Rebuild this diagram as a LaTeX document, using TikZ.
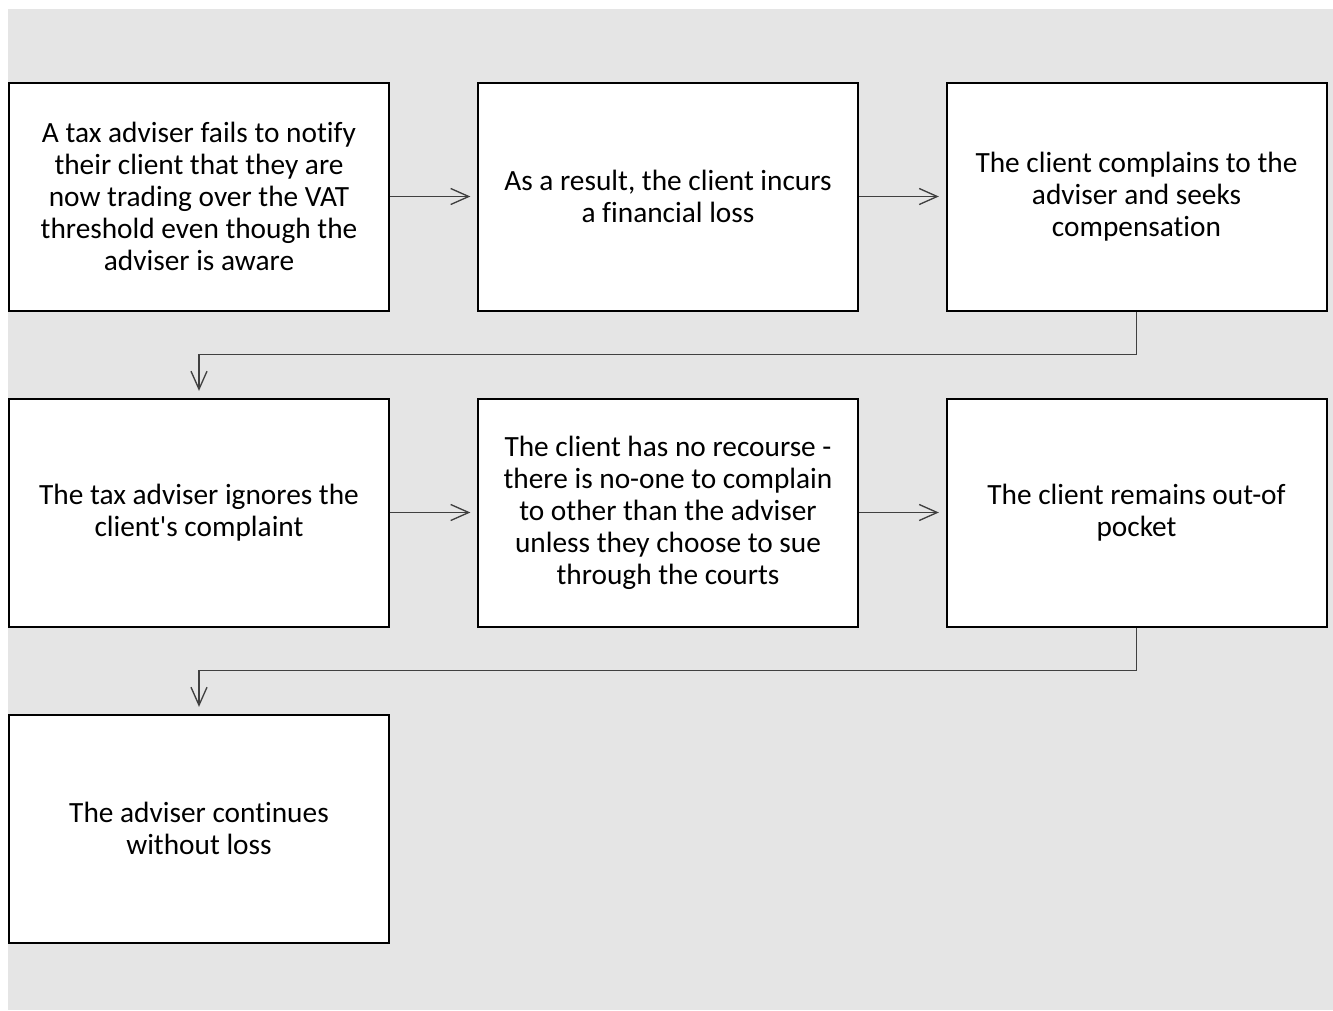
\documentclass[tikz,border=0pt]{standalone}
\usepackage{fontspec}
\setmainfont{Carlito}[Ligatures=NoCommon]
\usetikzlibrary{arrows.meta}

\definecolor{pagegray}{HTML}{E5E5E5}
\definecolor{linkgray}{HTML}{404040}

\tikzset{
  stepbox/.style={draw=black, line width=1.5pt, fill=white, minimum width=285pt,
    minimum height=171pt, align=center, inner sep=0pt,
    font=\fontsize{22}{24}\selectfont},
  link/.style={draw=linkgray, line width=1pt, shorten >=5pt,
    -{Straight Barb[length=13.5pt,width=12pt,line width=1pt]}}
}

\begin{document}
\begin{tikzpicture}[x=0.75pt,y=-0.75pt]

            \useasboundingbox (0,0) rectangle (1333,1010);
            \fill[pagegray] (8,9) rectangle (1333,1010);

            % first row
            \node[stepbox] (fail) at (199,196.5) {A tax adviser fails to notify\\their client that they are\\now trading over the VAT\\threshold even though the\\adviser is aware};
            \node[stepbox] (loss) at (668,196.5) {As a result, the client incurs\\a financial loss};
            \node[stepbox] (complain) at (1136.5,196.5) {The client complains to the\\adviser and seeks\\compensation};

            % second row
            \node[stepbox] (ignore) at (199,512.5) {The tax adviser ignores the\\client\textquotesingle s complaint};
            \node[stepbox] (norecourse) at (668,512.5) {The client has no recourse -\\there is no-one to complain\\to other than the adviser\\unless they choose to sue\\through the courts};
            \node[stepbox] (outofpocket) at (1136.5,512.5) {The client remains out-of\\pocket};

            % third row
            \node[stepbox] (continues) at (199,828.5) {The adviser continues\\without loss};

            \draw[link] (fail) -- (loss);
            \draw[link] (loss) -- (complain);
            \draw[link] (complain.south) |- ++(0,43) -| (ignore.north);
            \draw[link] (ignore) -- (norecourse);
            \draw[link] (norecourse) -- (outofpocket);
            \draw[link] (outofpocket.south) |- ++(0,43) -| (continues.north);

        \end{tikzpicture}
\end{document}
